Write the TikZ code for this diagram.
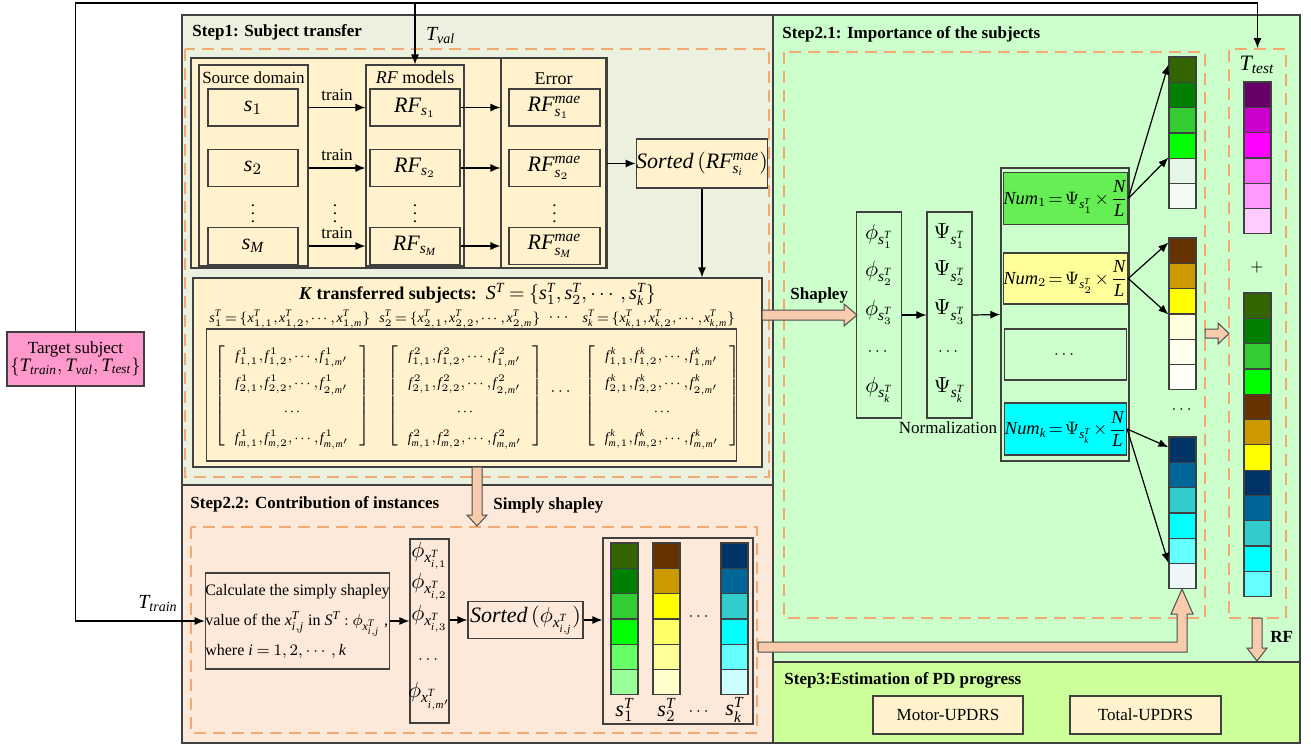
\documentclass[tikz,border=0pt]{standalone}
\usepackage{amsmath}
\usepackage{fontspec}
\setmainfont{Liberation Serif}
\usetikzlibrary{arrows.meta,calc}
% Times-like letters and digits in formulas
\newfontfamily\libserif{Liberation Serif}[NFSSFamily=libser]
\DeclareSymbolFont{libletters}{TU}{libser}{m}{it}
\DeclareSymbolFont{libdigits}{TU}{libser}{m}{n}
\makeatletter
\count@=`a \loop \Umathcode\count@=7 \symlibletters \count@ \advance\count@ 1 \ifnum\count@<123 \repeat
\count@=`A \loop \Umathcode\count@=7 \symlibletters \count@ \advance\count@ 1 \ifnum\count@<91 \repeat
\count@=`0 \loop \Umathcode\count@=7 \symlibdigits \count@ \advance\count@ 1 \ifnum\count@<58 \repeat
\makeatother
\thickmuskip=4mu plus 2mu
\medmuskip=3mu plus 1mu
% panel and box colours
\definecolor{stepone}{HTML}{EBF1DE}
\definecolor{steptwob}{HTML}{FDE9D9}
\definecolor{steptwoa}{HTML}{CCFFCC}
\definecolor{stepthree}{HTML}{CCFF99}
\definecolor{creambg}{HTML}{FFF2CC}
\definecolor{pinkbg}{HTML}{FF99CC}
\definecolor{peach}{HTML}{F8CBAD}
\definecolor{dashorange}{HTML}{F4A872}
\definecolor{numgreen}{HTML}{66EE55}
% cell colours
\definecolor{g1}{HTML}{336600}\definecolor{g2}{HTML}{008000}\definecolor{g3}{HTML}{33CC33}
\definecolor{g4}{HTML}{00FF00}\definecolor{g5}{HTML}{66FF66}\definecolor{g6}{HTML}{99FF99}
\definecolor{y1}{HTML}{663300}\definecolor{y2}{HTML}{CC9900}\definecolor{y3}{HTML}{FFFF00}
\definecolor{y4}{HTML}{FFFF66}\definecolor{y5}{HTML}{FFFF99}\definecolor{y6}{HTML}{FFFFCC}
\definecolor{b1}{HTML}{003366}\definecolor{b2}{HTML}{006699}\definecolor{b3}{HTML}{33CCCC}
\definecolor{b4}{HTML}{00FFFF}\definecolor{b5}{HTML}{66FFFF}\definecolor{b6}{HTML}{CCFFFF}
\definecolor{m1}{HTML}{660066}\definecolor{m2}{HTML}{CC00CC}\definecolor{m3}{HTML}{FF00FF}
\definecolor{m4}{HTML}{FF66FF}\definecolor{m5}{HTML}{FF99FF}\definecolor{m6}{HTML}{FFCCFF}
\definecolor{pg1}{HTML}{E4F6E4}\definecolor{pg2}{HTML}{F2FAF2}
\definecolor{py1}{HTML}{FFFFDD}\definecolor{py2}{HTML}{FFFFEE}\definecolor{py3}{HTML}{FFFFF6}
\definecolor{pb1}{HTML}{EEF6FA}
\newcommand{\fmat}[1]{\thinmuskip=1.5mu\renewcommand{\arraystretch}{1.6}\left[\begin{array}{c}
  f^{\kern0.8pt#1}_{1,1},f^{\kern0.8pt#1}_{1,2},\cdots,f^{\kern0.8pt#1}_{1,m'}\\
  f^{\kern0.8pt#1}_{2,1},f^{\kern0.8pt#1}_{2,2},\cdots,f^{\kern0.8pt#1}_{2,m'}\\
  \cdots\\
  f^{\kern0.8pt#1}_{m,1},f^{\kern0.8pt#1}_{m,2},\cdots,f^{\kern0.8pt#1}_{m,m'}\end{array}\right]}
\newcommand{\subjset}[1]{\thinmuskip=1.5mu\thickmuskip=2.5mu s^T_{#1}=\{x^T_{#1,1},x^T_{#1,2},\cdots,x^T_{#1,m}\}}
\newcommand{\numeq}[2]{\thickmuskip=2mu\medmuskip=1.5mu Num_{#1}=\Psi_{s^T_{#2}}\times\dfrac{N}{L}}
\tikzset{
  box/.style={draw=black!75, line width=0.6pt, inner sep=0pt},
  sz/.style 2 args={minimum width=#1*0.5pt, minimum height=#2*0.5pt},
  cream/.style={box, fill=creambg},
  dashbox/.style={draw=dashorange, line width=0.9pt, dash pattern=on 6pt off 3.5pt},
  arr/.style={-{Latex[length=5pt,width=4pt]}, line width=0.6pt},
  fat/.style={fill=peach, draw=black!70, line width=0.5pt},
  cell/.style={box, sz={27}{25.3}},
  title/.style={font=\fontsize{8.5}{10}\selectfont\bfseries, anchor=west, inner sep=0pt},
  bigm/.style={font=\fontsize{10}{12}\selectfont},
  bigmm/.style={font=\fontsize{11}{13}\selectfont},
  numm/.style={font=\fontsize{9.2}{11}\selectfont},
  smallm/.style={font=\fontsize{7}{8.5}\selectfont},
}
\begin{document}
\begin{tikzpicture}[x=0.5pt, y=-0.5pt, font=\fontsize{8.5}{10}\selectfont]
  \useasboundingbox (0,0) rectangle (1311,745);
  % panels
  \draw[box, fill=stepone] (182,15) rectangle (773,485);
  \draw[box, fill=steptwob] (182,485) rectangle (773,743);
  \draw[box, fill=steptwoa] (773,15) rectangle (1300,662);
  \draw[dashbox] (185,49) rectangle (769,477);
  \draw[dashbox] (191,527) rectangle (757,733);
  \draw[dashbox] (784,52) rectangle (1205,618);
  \node[dashbox, sz={57}{569}] (dT) at (1257.5,333.5) {};
  \node[title] (t1) at (192,32) {Step1: Subject transfer};
  \node[title] (t22) at (190,504) {Step2.2: Contribution of instances};
  \node[title] (t21) at (782,34) {Step2.1: Importance of the subjects};
  % target subject
  \node[box, fill=pinkbg, sz={137}{54}, align=center] (target) at (75.5,359) {Target subject\\[-1pt]{\fontsize{9.5}{12}\selectfont$\{T_{train},T_{val},T_{test}\}$}};
  \node[bigm] (ttrain) at (158,604) {$T_{train}$};
  \node[bigm, anchor=west] (tval) at (419,36) {$T_{val}$};

  % Step1: source domain, RF models, error
  \draw[cream] (191,58) rectangle (607,268);
  \node[cream, sz={109}{201}] (src) at (253.5,165.5) {};
  \node (srct) at (253.5,78) {Source domain};
  \node[cream, sz={98}{201}] (rfm) at (415,165.5) {};
  \node[font=\fontsize{9}{11}\selectfont] (rfmt) at (415,77) {$RF$ models};
  \node[cream, sz={105}{210}] (err) at (553.5,163) {};
  \node[font=\fontsize{9}{11}\selectfont] (errt) at (553.5,79) {Error};
  \foreach \n/\yy in {1/107.5, 2/168, M/246} {
    \node[cream, sz={90}{37}, bigmm] (s\n) at (253,\yy) {$s_{\n}$};
    \node[cream, sz={90}{37}, bigmm] (rf\n) at (415,\yy) {$RF_{s_{\n}}$};
    \node[cream, sz={91}{37}, bigmm] (e\n) at (554.5,\yy) {$RF^{mae}_{s_{\n}}$};
  }
  \foreach \xx/\n in {253/a, 335/b, 415/c, 554.5/d} \node (vd\n) at (\xx,208) {$\vdots$};
  \node[cream, sz={128}{49}, bigmm] (sort1) at (702,163.5) {$Sorted\,(RF^{mae}_{s_i})$};
  % K transferred subjects
  \node[cream, sz={569}{189}] (kbox) at (477.5,372.5) {};
  \node[font=\fontsize{9}{11}\selectfont] (ktitle) at (477.5,294) {\textbf{\textit{K} transferred subjects:}\ \ {\fontsize{10}{12}\selectfont$S^T=\{s^T_1,s^T_2,\cdots,s^T_k\}$}};
  \node[smallm] (set1) at (290,319) {$\subjset{1}$};
  \node[smallm] (set2) at (460,319) {$\subjset{2}$};
  \node (setd) at (560,318) {$\cdots$};
  \node[smallm] (setk) at (659,319) {$\subjset{k}$};
  \node[box, sz={530}{132}] (mbox) at (471.5,395) {};
  \node[smallm] (mat1) at (292,396) {$\fmat{1}$};
  \node[smallm] (mat2) at (465,396) {$\fmat{2}$};
  \node (matd) at (562,392) {$\cdots$};
  \node[smallm] (matk) at (662,396) {$\fmat{k}$};

  % Step2.2: contribution of instances
  \node[title] (simp) at (493,505) {Simply shapley};
  \node[box, sz={183}{96}, align=left, font=\fontsize{8}{15}\selectfont] (calc) at (297.5,621) {Calculate the simply shapley\\value of the $x^T_{i,j}$ in $S^T:\phi_{x^T_{i,j}}$ ,\\where $i=1,2,\cdots,k$};
  \node[box, sz={39}{184}] (phi2) at (429.5,631) {};
  \foreach \yy/\t in {556/1, 587/2, 619/3} \node[bigmm] (phb\t) at (429.5,\yy) {$\phi_{x^T_{i,\t}}$};
  \node (phbd) at (429.5,660) {$\cdots$};
  \node[bigmm] (phbm) at (429.5,696) {$\phi_{x^T_{i,m'}}$};
  \node[box, sz={115}{37}, bigmm] (sort2) at (525.5,620) {$Sorted\,(\phi_{x^T_{i,j}})$};
  \node[box, sz={150}{186}] (cgrp) at (678,631) {};
  \foreach \c [count=\i from 0] in {g1,g2,g3,g4,g5,g6} \node[cell, fill=\c] (p1-\i) at (624.5,555.65+\i*25.3) {};
  \foreach \c [count=\i from 0] in {y1,y2,y3,y4,y5,y6} \node[cell, fill=\c] (p2-\i) at (666.5,555.65+\i*25.3) {};
  \foreach \c [count=\i from 0] in {b1,b2,b3,b4,b5,b6} \node[cell, fill=\c] (pk-\i) at (734.5,555.65+\i*25.3) {};
  \node (pd) at (700,617) {$\cdots$};
  \node[bigmm] (ps1) at (624.5,710) {$s^T_1$};
  \node[bigmm] (ps2) at (666.5,710) {$s^T_2$};
  \node (psd) at (700,712) {$\cdots$};
  \node[bigmm] (psk) at (734.5,710) {$s^T_k$};

  % Step2.1: importance of the subjects
  \node[title] (shap) at (790,295) {Shapley};
  \node[box, sz={45}{206}] (phi1) at (879,315) {};
  \node[box, sz={45}{206}] (psi) at (949.5,315) {};
  \foreach \yy/\t in {236/1, 273/2, 312/3} {
    \node[bigmm] (pha\t) at (879,\yy) {$\phi_{s^T_{\t}}$};
    \node[bigmm] (psa\t) at (949.5,\yy) {$\Psi_{s^T_{\t}}$};
  }
  \node (phad) at (879,352) {$\cdots$};
  \node (psad) at (949.5,352) {$\cdots$};
  \node[bigmm] (phak) at (879,390) {$\phi_{s^T_k}$};
  \node[bigmm] (psak) at (949.5,390) {$\Psi_{s^T_k}$};
  \node (norm) at (948,428) {Normalization};
  \node[box, sz={128}{293}] (numgrp) at (1065,314.5) {};
  \node[box, fill=numgreen, sz={122}{52}, numm] (num1) at (1065.5,198.5) {$\numeq{1}{1}$};
  \node[box, fill=y5, sz={122}{51}, numm] (num2) at (1065.5,278.5) {$\numeq{2}{2}$};
  \node[box, sz={122}{51}] (numd) at (1065.5,354.5) {$\cdots$};
  \node[box, fill=b4, sz={122}{52}, numm] (numk) at (1065.5,429) {$\numeq{k}{k}$};
  \foreach \c [count=\i from 0] in {g1,g2,g3,g4,pg1,pg2} \node[cell, fill=\c] (ca-\i) at (1182.5,69.65+\i*25.3) {};
  \foreach \c [count=\i from 0] in {y1,y2,y3,py1,py2,py3} \node[cell, fill=\c] (cb-\i) at (1182.5,250.65+\i*25.3) {};
  \node (cd) at (1183,410) {$\cdots$};
  \foreach \c [count=\i from 0] in {b1,b2,b3,b4,b5,pb1} \node[cell, fill=\c] (ck-\i) at (1182.5,449.65+\i*25.3) {};
  % test set
  \node[bigmm] (ttest) at (1257,65) {$T_{test}$};
  \foreach \c [count=\i from 0] in {m1,m2,m3,m4,m5,m6} \node[cell, fill=\c] (ct-\i) at (1257.5,94.65+\i*25.3) {};
  \node (plus) at (1257,267) {$+$};
  \foreach \c [count=\i from 0] in {g1,g2,g3,g4,y1,y2,y3,b1,b2,b3,b4,b5} \node[cell, fill=\c] (cc-\i) at (1257.5,305.65+\i*25.3) {};

  % Step3
  \draw[box, fill=stepthree] (773,662) rectangle (1300,743);
  \node[title] (t3) at (784,680) {Step3:Estimation of PD progress};
  \node[cream, sz={150}{38}] (motor) at (948,715) {Motor-UPDRS};
  \node[cream, sz={151}{38}] (total) at (1145.5,715) {Total-UPDRS};
  \node[title] (rf) at (1270,637) {RF};

  % wide arrows
  \draw[fat] (762,310) -- (844,310) -- (844,304) -- (857,315) -- (844,326) -- (844,320) -- (762,320) -- cycle;
  \draw[fat] (472,467) -- (482,467) -- (482,515) -- (487,515) -- (477,526) -- (467,515) -- (472,515) -- cycle;
  \draw[fat] (758,642) -- (1177,642) -- (1177,614) -- (1171,614) -- (1182,589) -- (1193,614) -- (1187,614) -- (1187,652) -- (758,652) -- cycle;
  \draw[fat] (1205,329) -- (1218,329) -- (1218,323) -- (1229,333.5) -- (1218,344) -- (1218,338) -- (1205,338) -- cycle;
  \draw[fat] (1252,618) -- (1262,618) -- (1262,648) -- (1267,648) -- (1257,661) -- (1247,648) -- (1252,648) -- cycle;

  % connectors
  \coordinate (top) at (0,3);
  \draw[arr] (target.north) |- (top -| dT.north) -- (dT.north);
  \draw[arr] (top -| rfm.north) -- (rfm.north);
  \draw[arr] (target.south) |- (calc.west);
  \foreach \n in {1,2,M} {
    \draw[arr] (s\n -| src.east) -- (s\n -| rfm.west) node[midway, above] (tr\n) {train};
    \draw[arr] (rf\n.east) -- (rf\n -| err.west);
  }
  \draw[arr] (err.east |- sort1) -- (sort1.west);
  \draw[arr] (sort1.south) -- (sort1.south |- kbox.north);
  \draw[arr] (calc.east) -- (calc -| phi2.west);
  \draw[arr] (phi2.east |- sort2) -- (sort2.west);
  \draw[arr] (sort2.east) -- (sort2 -| cgrp.west);
  \draw[arr] (phi1.east) -- (psi.west);
  \draw[arr] (psi.east) -- (numgrp.west);
  \draw[arr] (num1.east) -- (ca-0.160);
  \draw[arr] (num1.east) -- (ca-4.north west);
  \draw[arr] (num2.east) -- (cb-0.150);
  \draw[arr] (num2.east) -- (cb-2.south west);
  \draw[arr] (numk.east) -- (ck-0.170);
  \draw[arr] (numk.east) -- (ck-5.north west);
\end{tikzpicture}
\end{document}
